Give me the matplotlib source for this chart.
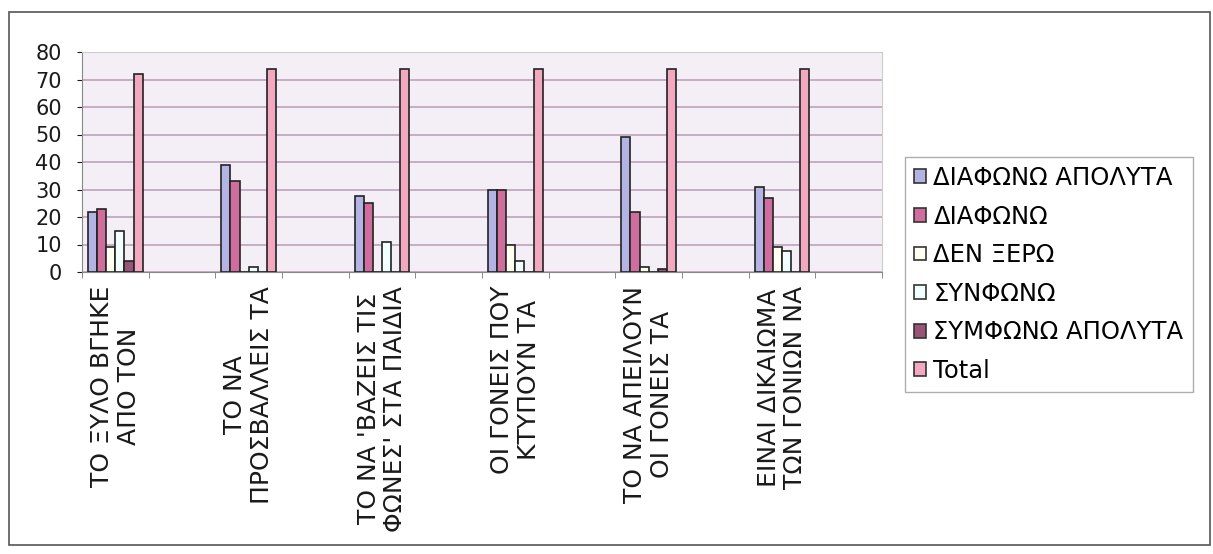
import matplotlib.pyplot as plt
import matplotlib.patches as mpatches
import numpy as np

plt.rcParams['font.family'] = ['DejaVu Sans']

nan = np.nan

# 12 categories, every other one is blank (as in the original sheet)
categories = ["ΤΟ ΞΥΛΟ ΒΓΗΚΕ\nΑΠΟ ΤΟΝ", "",
              "ΤΟ ΝΑ\nΠΡΟΣΒΑΛΛΕΙΣ ΤΑ", "",
              "ΤΟ ΝΑ 'ΒΑΖΕΙΣ ΤΙΣ\nΦΩΝΕΣ' ΣΤΑ ΠΑΙΔΙΑ", "",
              "ΟΙ ΓΟΝΕΙΣ ΠΟΥ\nΚΤΥΠΟΥΝ ΤΑ", "",
              "ΤΟ ΝΑ ΑΠΕΙΛΟΥΝ\nΟΙ ΓΟΝΕΙΣ ΤΑ", "",
              "ΕΙΝΑΙ ΔΙΚΑΙΩΜΑ\nΤΩΝ ΓΟΝΙΩΝ ΝΑ", ""]

diafono_apolyta = [22, nan, 39, nan, 27.5, nan, 30, nan, 49, nan, 31, nan]
diafono = [23, nan, 33, nan, 25, nan, 30, nan, 22, nan, 27, nan]
den_xero = [9, nan, 0, nan, 0, nan, 10, nan, 2, nan, 9, nan]
synfono = [15, nan, 2, nan, 11, nan, 4, nan, 0, nan, 7.5, nan]
symfono_apolyta = [4, nan, 0, nan, 0, nan, 0, nan, 1, nan, 0, nan]
total = [72, nan, 74, nan, 74, nan, 74, nan, 74, nan, 74, nan]

series_names = ["ΔΙΑΦΩΝΩ ΑΠΟΛΥΤΑ", "ΔΙΑΦΩΝΩ", "ΔΕΝ ΞΕΡΩ",
                "ΣΥΝΦΩΝΩ", "ΣΥΜΦΩΝΩ ΑΠΟΛΥΤΑ", "Total"]
series = [diafono_apolyta, diafono, den_xero, synfono, symfono_apolyta, total]
colors = ['#B4B4E4', '#CF6E9E', '#FFFFF2', '#F2FFFF', '#995577', '#F2A8BE']

fig = plt.figure(figsize=(12.13, 5.54), dpi=100)
ax = fig.add_axes([82/1213, 1-272/554, 800/1213, 220/554])
ax.set_facecolor('#F4EFF6')

x = np.arange(len(categories))
w = 0.137
for j, (vals, name, c) in enumerate(zip(series, series_names, colors)):
    ax.bar(x + (j - 2.5)*w, vals, w, color=c, edgecolor='#222222',
           linewidth=1.2, label=name, zorder=3)

ax.set_xlim(-0.5, len(categories) - 0.5)
ax.set_ylim(0, 80)
ax.set_yticks(np.arange(0, 81, 10))
ax.yaxis.grid(True, color='#BFA9BF', linewidth=1.3, zorder=0)
ax.set_axisbelow(True)

ax.set_xticks(x)
ax.set_xticklabels(categories, rotation=90, va='top', ha='center',
                   multialignment='center', fontsize=18, color='#1A1A1A',
                   linespacing=1.15)
ax.tick_params(axis='x', length=0, pad=10)
ax.set_xticks(np.arange(-0.5, len(categories), 1), minor=True)
ax.tick_params(axis='x', which='minor', length=4, color='#777777')
ax.yaxis.set_tick_params(length=3.5, pad=11, labelsize=15, colors='#1A1A1A')

for s in ['top', 'right']:
    ax.spines[s].set_color('#CCCCCC')
for s in ['left', 'bottom']:
    ax.spines[s].set_color('#888888')

handles = [mpatches.Patch(facecolor=c, edgecolor='#333333', linewidth=1.2)
           for c in colors]
leg = fig.legend(handles, series_names, loc='upper left',
                 bbox_to_anchor=(905/1213, 1-157/554), fontsize=17.5,
                 frameon=True, fancybox=False, edgecolor='#999999',
                 handlelength=0.5, handleheight=0.5, handletextpad=0.3,
                 labelspacing=0.6, borderpad=0.37, borderaxespad=0)
leg.get_frame().set_linewidth(1.0)

# outer chart frame
fig.patches.append(mpatches.Rectangle((9/1213, 1-545/554), 1201/1213, 533/554,
                                      transform=fig.transFigure, fill=False,
                                      edgecolor='#555555', linewidth=1.2))

fig.savefig('out.png', dpi=100)
